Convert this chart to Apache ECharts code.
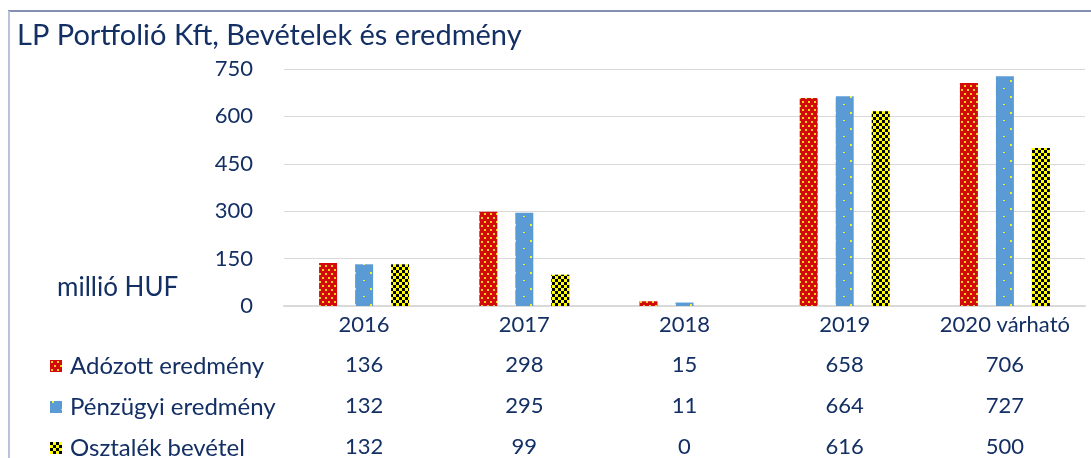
<!DOCTYPE html>
<html>
<head>
<meta charset="utf-8">
<script src="https://cdn.jsdelivr.net/npm/echarts@6/dist/echarts.min.js"></script>
<style>
  html, body { margin: 0; padding: 0; background: #fff; }
  #chart { width: 1091px; height: 458px; }
</style>
</head>
<body>
<div id="chart"></div>
<script>
// adatok (millió HUF)
var categories = ['2016', '2017', '2018', '2019', '2020 várható'];
var seriesNames = ['Adózott eredmény', 'Pénzügyi eredmény', 'Osztalék bevétel'];
var adozott = [136, 298, 15, 658, 706];
var penzugyi = [132, 295, 11, 664, 727];
var osztalek = [132, 99, 0, 616, 500];
var yTicks = { min: 0, max: 750, interval: 150 };

var NAVY = '#132f64';
var FONT = 'Lato, "Open Sans", sans-serif';
var LABEL_SIZE = 22;

// mintázatok canvas-ból
function makePattern(w, h, draw) {
    var c = document.createElement('canvas');
    c.width = w;
    c.height = h;
    draw(c.getContext('2d'));
    return { image: c, repeat: 'repeat' };
}

var redPattern = makePattern(6, 8, function (ctx) {
    ctx.fillStyle = '#d20a0a';
    ctx.fillRect(0, 0, 6, 8);
    ctx.fillStyle = '#f5d31a';
    ctx.fillRect(1, 1, 2, 2);
    ctx.fillRect(4, 5, 2, 2);
});

var bluePattern = makePattern(16, 16, function (ctx) {
    ctx.fillStyle = '#5b9bd5';
    ctx.fillRect(0, 0, 16, 16);
    ctx.fillStyle = '#f2f22a';
    ctx.fillRect(2, 0, 2, 2);
    ctx.fillRect(11, 8, 2, 1);
});

var checkPattern = makePattern(6, 6, function (ctx) {
    ctx.fillStyle = '#ffff00';
    ctx.fillRect(0, 0, 6, 6);
    ctx.fillStyle = '#000';
    ctx.fillRect(0, 0, 3, 3);
    ctx.fillRect(3, 3, 3, 3);
});

var patterns = [redPattern, bluePattern, checkPattern];
var values = [adozott, penzugyi, osztalek];
var rowOffsets = [41, 82, 123];
var legendTops = [349, 390, 431];

// táblázat sorai: külön kategória tengelyek
function tableAxis(vals, offset) {
    return {
        type: 'category',
        data: vals.map(String),
        position: 'bottom',
        offset: offset,
        axisLine: { show: false },
        axisTick: { show: false },
        axisLabel: { interval: 0, color: NAVY, fontSize: LABEL_SIZE, fontFamily: FONT, margin: 7 }
    };
}

var series = seriesNames.map(function (name, i) {
    return {
        name: name,
        type: 'bar',
        data: values[i],
        barWidth: 18,
        barGap: '100%',
        itemStyle: { color: patterns[i] }
    };
});

// soronként egy jelmagyarázat, hogy ne törjön oszlopokra
var legends = seriesNames.map(function (name, i) {
    return {
        orient: 'horizontal',
        left: 45,
        top: legendTops[i],
        itemWidth: 12,
        itemHeight: 12,
        icon: 'rect',
        textStyle: { color: NAVY, fontSize: 24, fontFamily: FONT, padding: [0, 0, 0, 3] },
        data: [name]
    };
});

var chart = echarts.init(document.getElementById('chart'));
chart.setOption({
    animation: false,
    textStyle: { fontFamily: FONT },
    title: {
        text: 'LP Portfolió Kft, Bevételek és eredmény',
        left: 12,
        top: 16,
        textStyle: { color: NAVY, fontSize: 29, fontWeight: 'normal', fontFamily: FONT }
    },
    legend: legends,
    grid: { left: 284, right: 6, top: 69, bottom: 152 },
    xAxis: [
        {
            type: 'category',
            data: categories,
            axisLine: { lineStyle: { color: '#d9d9d9', width: 2 } },
            axisTick: { show: false },
            axisLabel: { interval: 0, color: NAVY, fontSize: LABEL_SIZE, fontFamily: FONT, margin: 8 }
        },
        tableAxis(adozott, rowOffsets[0]),
        tableAxis(penzugyi, rowOffsets[1]),
        tableAxis(osztalek, rowOffsets[2])
    ],
    yAxis: {
        type: 'value',
        min: yTicks.min,
        max: yTicks.max,
        interval: yTicks.interval,
        axisLine: { show: false },
        axisTick: { show: false },
        axisLabel: { color: NAVY, fontSize: LABEL_SIZE, fontFamily: FONT, margin: 31 },
        splitLine: { lineStyle: { color: '#d9d9d9', width: 1 } }
    },
    graphic: [
        { type: 'text', left: 57, top: 275,
          style: { text: 'millió HUF', fill: NAVY, font: '26px ' + FONT } },
        { type: 'line', shape: { x1: 8, y1: 11, x2: 1091, y2: 11 },
          style: { stroke: '#5b6b99', lineWidth: 1.5 } },
        { type: 'line', shape: { x1: 9, y1: 11, x2: 9, y2: 458 },
          style: { stroke: '#b8c4dc', lineWidth: 2 } }
    ],
    series: series
});
</script>
</body>
</html>
